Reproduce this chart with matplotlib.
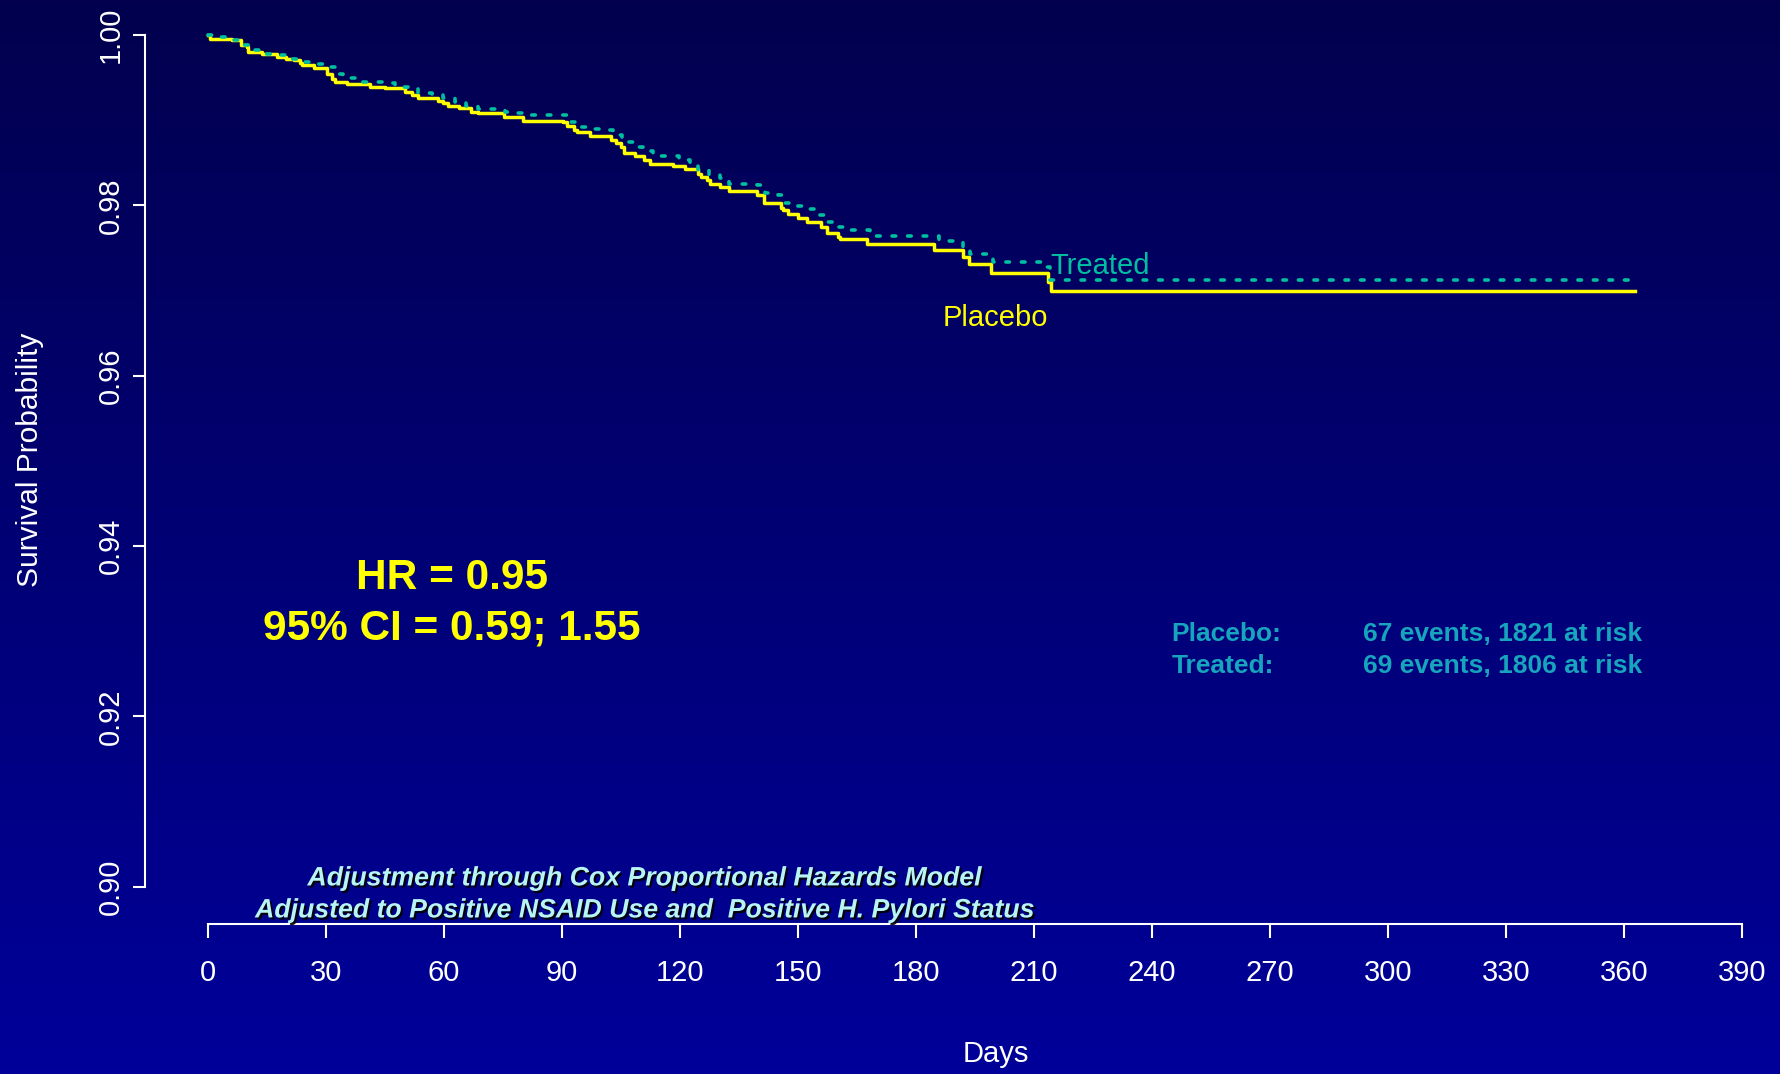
import numpy as np
import matplotlib
matplotlib.use("Agg")
import matplotlib.pyplot as plt
import matplotlib.patheffects as pe

# ---------------- data ----------------
placebo_days = [0, 0.6, 6.1, 8.5, 10.0, 10.3, 13.8, 17.5, 20.0, 22.0, 23.5, 24.0, 27.0, 30.3, 31.5,
                32.4, 35.3, 41.3, 45.0, 50.2, 51.9, 53.5, 58.5, 59.9, 61.2, 64.0, 67.0, 68.8, 75.2, 80.2,
                90.4, 91.3, 93.0, 93.8, 97.3, 102.4, 103.7, 105.0, 105.7, 108.7, 111.0, 112.4, 118.3, 121.3, 124.7,
                125.5, 126.8, 127.7, 130.3, 132.6, 139.7, 141.5, 145.7, 146.3, 147.5, 150.0, 152.3, 156.0, 157.3, 160.3,
                160.7, 167.5, 184.6, 191.9, 193.5, 199.0, 213.7, 214.3, 362.8]
placebo_surv = [1.0, 0.9996, 0.9994, 0.9988, 0.9986, 0.9980, 0.99785, 0.9974, 0.99726, 0.99706, 0.99679, 0.9965, 0.9961, 0.9955, 0.9949,
                0.9945, 0.9943, 0.9939, 0.9938, 0.9933, 0.9930, 0.9926, 0.99225, 0.99205, 0.9917, 0.9914, 0.9910, 0.9909, 0.9904, 0.9899,
                0.98975, 0.98935, 0.98884, 0.98864, 0.98814, 0.98767, 0.98728, 0.98689, 0.98622, 0.98583, 0.9854, 0.98493, 0.98466, 0.98426, 0.98368,
                0.98336, 0.98297, 0.9825, 0.98212, 0.98172, 0.98121, 0.98031, 0.97965, 0.97945, 0.97895, 0.97848, 0.97808, 0.97749, 0.97671, 0.97631,
                0.97601, 0.97546, 0.97475, 0.9739, 0.97307, 0.97209, 0.97103, 0.96994, 0.96994]

treated_days = [0, 3.5, 6.5, 9.0, 11.5, 14.5, 18.0, 21.0, 23.8, 27.0, 30.0, 32.4, 34.5, 37.7, 41.3,
                44.7, 47.6, 51.0, 53.5, 57.0, 59.9, 62.9, 65.7, 68.6, 72.2, 75.6, 78.7, 82.0, 91.7, 94.2,
                97.4, 101.0, 103.1, 105.2, 108.0, 110.7, 113.3, 119.9, 122.6, 124.7, 127.3, 130.2, 132.6, 139.6, 141.7,
                144.9, 146.7, 149.7, 152.3, 154.8, 156.9, 159.5, 162.4, 168.4, 186.0, 192.0, 193.8, 199.7, 213.3, 214.1,
                362.0]
treated_surv = [1.0, 0.99973, 0.99941, 0.99883, 0.99824, 0.99785, 0.99773, 0.99726, 0.99687, 0.9966, 0.99628, 0.9955, 0.99492, 0.99452, 0.99445,
                0.99433, 0.99393, 0.99374, 0.99318, 0.99304, 0.99257, 0.9921, 0.9917, 0.99139, 0.99128, 0.991, 0.99081, 0.99061, 0.98982, 0.98916,
                0.98893, 0.98884, 0.98826, 0.9874, 0.98689, 0.98638, 0.98583, 0.98532, 0.98493, 0.98415, 0.98356, 0.98317, 0.9825, 0.98239, 0.98148,
                0.98121, 0.98035, 0.97992, 0.97953, 0.97886, 0.97804, 0.97749, 0.9771, 0.97643, 0.97581, 0.97514, 0.97425, 0.97338, 0.97279, 0.97123,
                0.97123]

x_ticks = [0, 30, 60, 90, 120, 150, 180, 210, 240, 270, 300, 330, 360, 390]
y_ticks = [0.90, 0.92, 0.94, 0.96, 0.98, 1.00]
y_tick_labels = ["0.90", "0.92", "0.94", "0.96", "0.98", "1.00"]

hr_lines = ["HR = 0.95", "95% CI = 0.59; 1.55"]
events_groups = ["Placebo:", "Treated:"]
events_text = ["67 events, 1821 at risk", "69 events, 1806 at risk"]
notes = ["Adjustment through Cox Proportional Hazards Model",
         "Adjusted to Positive NSAID Use and  Positive H. Pylori Status"]

# ---------------- figure ----------------
plt.rcParams['font.family'] = ['Liberation Sans', 'DejaVu Sans']
W, H = 1780, 1074
fig = plt.figure(figsize=(W / 100, H / 100), dpi=100)

# background gradient
bg = fig.add_axes([0, 0, 1, 1], zorder=-10)
top = np.array([0x02, 0x00, 0x4E]) / 255
bot = np.array([0x00, 0x00, 0x9A]) / 255
t = np.linspace(0, 1, 256)[:, None]
grad = top[None, :] * (1 - t) + bot[None, :] * t
bg.imshow(grad[:, None, :], aspect='auto', extent=[0, 1, 0, 1])
bg.axis('off')

left, right = 207.7 / W, 1742 / W
bottom, topy = (H - 886.6) / H, (H - 35.2) / H
ax = fig.add_axes([left, bottom, right - left, topy - bottom])
ax.set_facecolor('none')
ax.set_xlim(0, 390)
ax.set_ylim(0.90, 1.00)

yellow = '#FFFF00'
teal = '#00BFA0'

ax.step(placebo_days, placebo_surv, where='post', color=yellow, lw=2.5, clip_on=False, zorder=3)
ax.step(treated_days, treated_surv, where='post', color=teal, lw=2.6, clip_on=False, zorder=4,
        dashes=(1.0, 3.3), dash_capstyle='round')

for s in ['top', 'right']:
    ax.spines[s].set_visible(False)
ax.spines['left'].set_position(('outward', 44.9))
ax.spines['bottom'].set_position(('outward', 26.9))
ax.spines['left'].set_bounds(0.90, 1.00)
ax.spines['bottom'].set_bounds(0, 390)
for s in ['left', 'bottom']:
    ax.spines[s].set_color('white')
    ax.spines[s].set_linewidth(1.5)

ax.set_xticks(x_ticks)
ax.set_xticklabels([str(v) for v in x_ticks])
ax.set_yticks(y_ticks)
ax.set_yticklabels(y_tick_labels, rotation=90, va='center')
ax.tick_params(axis='x', colors='white', labelsize=21, length=10, width=1.5, pad=15.5)
ax.tick_params(axis='y', colors='white', labelsize=21, length=9, width=1.5, pad=5.5)

fig.text(30.5 / W, 1 - 460 / H, "Survival Probability", rotation=90, color='white',
         fontsize=21.5, ha='center', va='center')
fig.text(995.6 / W, 1 - 1054.5 / H, "Days", color='white', fontsize=21, ha='center', va='center')

dy = -0.0004  # small downward shift to match glyph centres

# curve labels
ax.text(214.1, 0.97290, "Treated", color=teal, fontsize=21, ha='left', va='center')
ax.text(186.9, 0.96724 + dy, "Placebo", color=yellow, fontsize=21, ha='left', va='center')

# HR
ax.text(62.05, 0.93667 + dy, hr_lines[0], color=yellow, fontsize=30.5, fontweight='bold', ha='center', va='center')
ax.text(62.05, 0.93067 + dy, hr_lines[1], color=yellow, fontsize=30.5, fontweight='bold', ha='center', va='center')

# events
ev_col = '#16A5BD'
ev_y = [0.93002, 0.92626]
for g, e, yv in zip(events_groups, events_text, ev_y):
    ax.text(245.0, yv + dy, g, color=ev_col, fontsize=19, fontweight='bold', ha='left', va='center')
    ax.text(293.7, yv + dy, e, color=ev_col, fontsize=19, fontweight='bold', ha='left', va='center')

# notes
note_y = [0.90136, 0.89760]
for n, yv in zip(notes, note_y):
    ax.text(110.8, yv + dy, n, color='#B8F4F4', fontsize=19.2, fontweight='bold', fontstyle='italic',
            ha='center', va='center', clip_on=False,
            path_effects=[pe.SimplePatchShadow(offset=(1.5, -1.5), shadow_rgbFace='black', alpha=0.9),
                          pe.Normal()])

fig.savefig("out.png", dpi=100)
